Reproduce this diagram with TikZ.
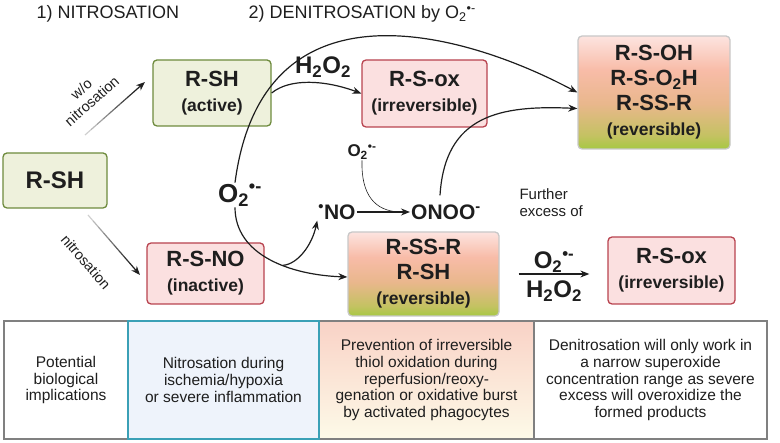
\documentclass[tikz,border=0pt]{standalone}
\usepackage{fontspec}
\setmainfont{Liberation Sans}
\usetikzlibrary{arrows.meta,positioning,calc}

\definecolor{txt}{HTML}{1E1E1E}
\definecolor{grnfill}{HTML}{EEF1DC}
\definecolor{grnline}{HTML}{6E8B3D}
\definecolor{pnkfill}{HTML}{FBE0E0}
\definecolor{pnkline}{HTML}{B8434F}
\definecolor{gryline}{HTML}{C8C8C8}
\definecolor{cellline}{HTML}{808080}
\definecolor{tealline}{HTML}{3AA0B6}
\definecolor{bluefill}{HTML}{EEF3FB}
\definecolor{shA}{HTML}{A6C843}
\definecolor{shB}{HTML}{C4C262}
\definecolor{shC}{HTML}{E9B78C}
\definecolor{shD}{HTML}{F8BCA8}
\definecolor{shE}{HTML}{FDE4E0}
\definecolor{celltop}{HTML}{F9D2C6}
\definecolor{cellbot}{HTML}{FDFAE8}

% the path covers 25bp..75bp of the shading
\pgfdeclareverticalshading{revshade}{100bp}{color(0bp)=(shA); color(25bp)=(shA); color(31bp)=(shB); color(45bp)=(shC); color(60bp)=(shD); color(75bp)=(shE); color(100bp)=(shE)}

\newcommand{\supox}{O\textsubscript{2}\textsuperscript{\textbullet-}}
\newcommand{\hperox}{H\textsubscript{2}O\textsubscript{2}}
\newcommand{\boxtitle}[1]{{\fontsize{22}{25}\selectfont #1}}
\newcommand{\fadearrow}[2]{%
 \foreach \i [evaluate=\i as \c using int(10+9*\i)] in {1,...,8}
  \draw[line width=1.2pt,draw=black!\c] ($(#1)!{(\i-1)/10}!(#2)$) -- ($(#1)!{\i/10}!(#2)$);
 \draw[->,line width=1.2pt,draw=black!88] ($(#1)!0.8!(#2)$) -- (#2);}

\tikzset{
 box/.style={rounded corners=4pt,line width=1.3pt,align=center,inner sep=0pt,text=txt,
  font=\bfseries\fontsize{17.5}{25}\selectfont},
 greenbox/.style={box,draw=grnline,fill=grnfill},
 pinkbox/.style={box,draw=pnkline,fill=pnkfill},
 gradbox/.style={box,draw=gryline,shade,shading=revshade},
 cell/.style={draw=cellline,line width=1.3pt,minimum height=118pt,align=center,inner sep=0pt,
  text=txt,font=\fontsize{15.5}{16.8}\selectfont},
 chem/.style={inner sep=1pt,text=txt,font=\bfseries\fontsize{21}{23}\selectfont},
 conn/.style={->,line width=1.2pt,draw=txt},
 lbl/.style={text=txt,font=\fontsize{14.5}{16}\selectfont,align=center}
}

\begin{document}
\begin{tikzpicture}[>={Stealth[length=9pt,width=7pt]},x=1pt,y={(0pt,-1pt)}]
\useasboundingbox (0,0) rectangle (780,443);

% headings
\node[anchor=west,text=txt,font=\fontsize{18}{20}\selectfont] (head1) at (33,14) {1) NITROSATION};
\node[anchor=west,text=txt,font=\fontsize{18}{20}\selectfont] (head2) at (245,14) {2) DENITROSATION by \supox};

% boxes
\node[greenbox,minimum width=104pt,minimum height=55pt,font=\bfseries\fontsize{24}{25}\selectfont] (rsh) at (55,180.5) {R-SH};
\node[greenbox,minimum width=118pt,minimum height=66pt] (active) at (212,93) {\boxtitle{R-SH}\\(active)};
\node[pinkbox,minimum width=125pt,minimum height=67pt] (oxtop) at (424.5,93.5) {\boxtitle{R-S-ox}\\(irreversible)};
\node[gradbox,minimum width=152pt,minimum height=113pt] (revtop) at (654,92.5)
 {\boxtitle{R-S-OH}\\\boxtitle{R-S-O\textsubscript{2}H}\\\boxtitle{R-SS-R}\\(reversible)};
\node[pinkbox,minimum width=117pt,minimum height=61pt] (rsno) at (205.5,273.5) {\boxtitle{R-S-NO}\\(inactive)};
\node[gradbox,minimum width=151pt,minimum height=84pt] (revmid) at (423.5,274) {\boxtitle{R-SS-R}\\\boxtitle{R-SH}\\(reversible)};
\node[pinkbox,minimum width=127pt,minimum height=67pt] (oxright) at (671.5,270.5) {\boxtitle{R-S-ox}\\(irreversible)};

% species
\node[chem,font=\bfseries\fontsize{26}{28}\selectfont] (o2big) at (240,195) {\supox};
\node[chem,font=\bfseries\fontsize{24}{26}\selectfont] (h2o2) at (323,67) {\hperox};
\node[chem] (no) at (337,212) {\textsuperscript{\textbullet}NO};
\node[chem] (onoo) at (446,212) {ONOO\textsuperscript{-}};
\node[chem,font=\bfseries\fontsize{17}{19}\selectfont] (o2small) at (362,152) {\supox};
\node[anchor=west,align=left,text=txt,font=\fontsize{15}{17}\selectfont] (further) at (516,203) {Further\\excess of};

% nitrosation or not
\coordinate (wotail) at (85,135);
\coordinate (wohead) at (145,82);
\coordinate (ntail) at (88,215);
\coordinate (nhead) at (140,275);
\fadearrow{wotail}{wohead}
\fadearrow{ntail}{nhead}
\node[lbl,rotate=41.5] (wolbl) at (86.5,95) {w/o\\nitrosation};
\node[lbl,rotate=-49] (nlbl) at (86,262) {nitrosation};

% superoxide paths
\draw[conn] ([xshift=-5pt]o2big.north) .. controls (263,-30) and (470,35) .. (revtop.west);
\draw[conn] (active.east) .. controls (290,78) and (325,80) .. (oxtop.west);
\draw[conn] ([xshift=-6pt,yshift=8pt]onoo.north) .. controls (445,115) and (500,105) .. ([yshift=-16pt]revtop.west);
\draw[conn] ([xshift=-5pt]o2big.south) .. controls (235,255) and (290,275) .. ([yshift=-3pt]revmid.west) coordinate[pos=0.6] (split);
\draw[conn] (split) .. controls (298,264) and (312,245) .. (no.south west);
\draw[conn] (no.east) -- coordinate[pos=0.8] (meet) (onoo.west);
\draw[line width=0.6pt,draw=txt] (o2small.south) .. controls (361,195) and (375,211) .. (meet);

% excess
\coordinate (xsstart) at ([xshift=19pt]revmid.east);
\coordinate (xsend) at ([xshift=-18pt]oxright.west |- revmid.east);
\draw[conn] (xsstart) -- (xsend)
 node[chem,midway,above=0pt,font=\bfseries\fontsize{24}{26}\selectfont] (o2arr) {\supox}
 node[chem,midway,below=5pt,font=\bfseries\fontsize{24}{26}\selectfont] (h2o2arr) {\hperox};

% implications
\node[cell,minimum width=124pt] (impl) at (66,380) {Potential\\biological\\implications};
\node[cell,minimum width=215pt,top color=celltop,bottom color=cellbot] (prevent) at (426.5,380)
 {Prevention of irreversible\\thiol oxidation during\\reperfusion/reoxy-\\genation or oxidative burst\\by activated phagocytes};
\node[cell,minimum width=233pt] (narrow) at (650.5,380)
 {Denitrosation will only work in\\a narrow superoxide\\concentration range as severe\\excess will overoxidize the\\formed products};
\node[cell,minimum width=191pt,draw=tealline,fill=bluefill] (ischemia) at (223.5,380)
 {Nitrosation during\\ischemia/hypoxia\\or severe inflammation};
\end{tikzpicture}
\end{document}
